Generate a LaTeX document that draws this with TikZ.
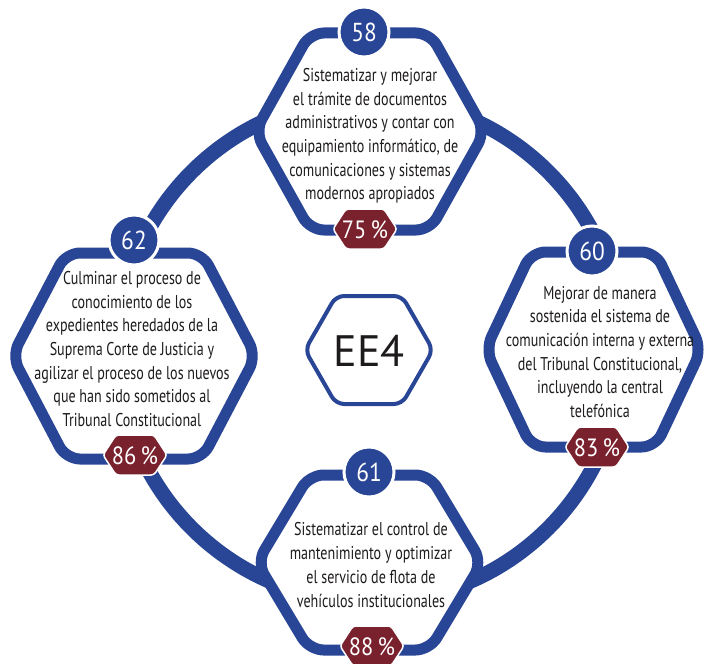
\documentclass[tikz,border=0pt]{standalone}
\usepackage{fontspec}
\setmainfont{PT Sans}
\newfontfamily\condfont{PT Sans}[FakeStretch=0.76]
\newfontfamily\numfont{PT Sans}[FakeStretch=0.9]
\usepackage{xcolor}
\usepackage{tikz}
\definecolor{ringblue}{RGB}{41,69,150}
\definecolor{badgered}{RGB}{122,33,46}
\definecolor{txtgray}{RGB}{30,27,28}
% hexagon with flat top: [style]{cx}{cy}{half width}{half top edge}{half height}
\newcommand{\hexagon}[6][]{%
  \draw[#1] ({#2-#4},#3) -- ({#2-#5},{#3-#6}) -- ({#2+#5},{#3-#6})
    -- ({#2+#4},#3) -- ({#2+#5},{#3+#6}) -- ({#2-#5},{#3+#6}) -- cycle;}

\begin{document}
\begin{tikzpicture}[x=1pt, y=-1pt,
  ring/.style={draw=ringblue, line width=15pt},
  hexbox/.style={draw=ringblue, fill=white, line width=11pt, rounded corners=14pt},
  corebox/.style={draw=ringblue, fill=white, line width=4pt, rounded corners=8pt},
  badge/.style={draw=white, fill=badgered, line width=1.5pt, rounded corners=3pt},
  num/.style={circle, fill=ringblue, draw=white, line width=3pt, minimum size=50pt,
    inner sep=0pt, text=white, font=\numfont\fontsize{26}{26}\selectfont},
  pct/.style={text=white, font=\numfont\fontsize{25}{25}\selectfont},
  goal/.style={align=center, text=txtgray, inner sep=0pt,
    font=\condfont\fontsize{18.5}{23.7}\selectfont}
]
\useasboundingbox (0,0) rectangle (708,663);
% --- ring behind everything ---
\draw[ring] (370,350) circle[radius=252pt];
% --- four objective hexagons ---
\hexagon[hexbox]{370}{131.5}{115}{60}{98.5}
\hexagon[hexbox]{134}{356}{122}{68}{103}
\hexagon[hexbox]{593.5}{349.5}{108}{62}{97.5}
\hexagon[hexbox]{369.5}{562.5}{112.5}{60}{87.5}
% --- central hexagon ---
\hexagon[corebox]{369}{350}{64}{33}{54}
\node[text=txtgray, font=\fontsize{44}{44}\selectfont] (core) at (369,351) {EE4};
% --- numbers ---
\node[num] (n58) at (364,32) {58};
\node[num] (n62) at (134,240) {62};
\node[num] (n60) at (592,251) {60};
\node[num] (n61) at (369,472) {61};
% --- percentage badges ---
\hexagon[badge]{365}{229}{32}{19}{20}
\hexagon[badge]{135}{455}{32}{19}{20}
\hexagon[badge]{597}{447}{32}{19}{20}
\hexagon[badge]{372}{646}{32}{19}{20}
\node[pct] (p58) at (365,230) {75\,\%};
\node[pct] (p62) at (135,456) {86\,\%};
\node[pct] (p60) at (597,448) {83\,\%};
\node[pct] (p61) at (372,647) {88\,\%};
% --- objective texts ---
\node[goal] (g58) at (370,136) {Sistematizar y mejorar\\el trámite de documentos\\administrativos y contar con\\equipamiento informático, de\\comunicaciones y sistemas\\modernos apropiados};
\node[goal] (g62) at (132,349) {Culminar el proceso de\\conocimiento de los\\expedientes heredados de la\\Suprema Corte de Justicia y\\agilizar el proceso de los nuevos\\que han sido sometidos al\\Tribunal Constitucional};
\node[goal] (g60) at (600,352) {Mejorar de manera\\sostenida el sistema de\\comunicación interna y externa\\del Tribunal Constitucional,\\incluyendo la central\\telefónica};
\node[goal] (g61) at (371,565) {Sistematizar el control de\\mantenimiento y optimizar\\el servicio de flota de\\vehículos institucionales};
\end{tikzpicture}
\end{document}
